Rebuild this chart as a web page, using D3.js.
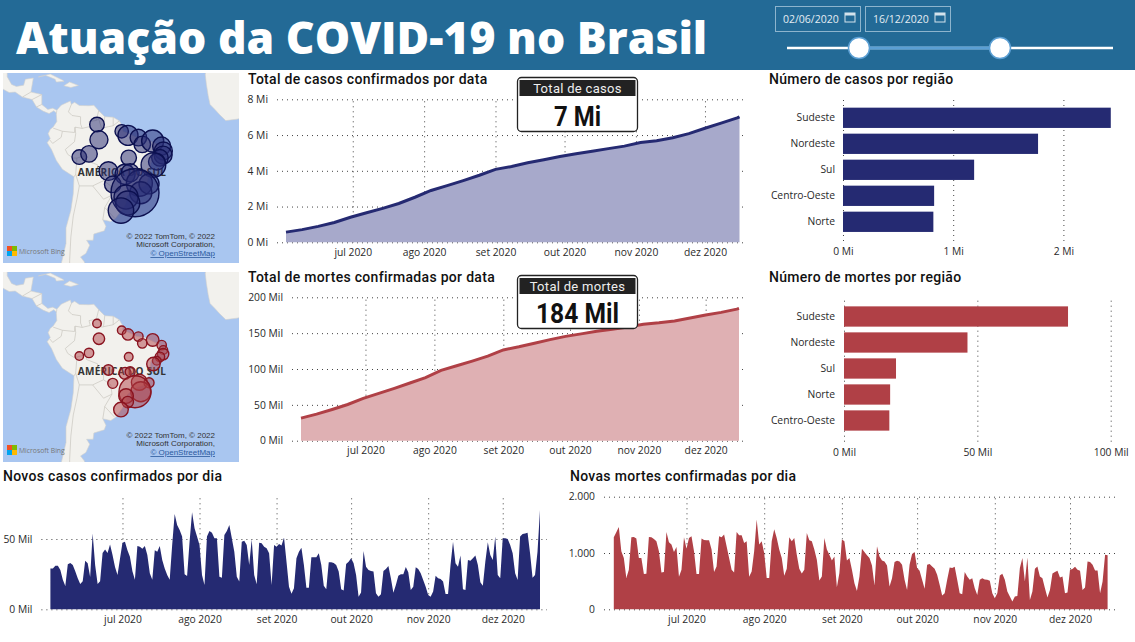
<!DOCTYPE html>
<html>
<head>
<meta charset="utf-8">
<script src="https://cdn.jsdelivr.net/npm/d3@7"></script>
<style>
  body { margin: 0; background: #fff; }
  text { font-family: "Open Sans", sans-serif; }
  .title { font-family: Roboto, sans-serif; font-weight: 500; font-size: 14px; letter-spacing: 0.3px; fill: #111; }
  .tick text { font-family: "Open Sans", sans-serif; font-size: 10.3px; fill: #2a2a2a; }
  .tick line { stroke: #444; stroke-dasharray: 1 4; }
  .domain { display: none; }
</style>
</head>
<body>
<div id="chart"></div>
<script>
// Atuacao da COVID-19 no Brasil

const width = 1135, height = 642;

// acumulados, uma leitura por semana
const weekDates = ["2020-06-02","2020-06-09","2020-06-16","2020-06-23","2020-06-30","2020-07-07","2020-07-14","2020-07-21","2020-07-28",
  "2020-08-04","2020-08-11","2020-08-18","2020-08-25","2020-09-01","2020-09-08","2020-09-15","2020-09-22","2020-09-29",
  "2020-10-06","2020-10-13","2020-10-20","2020-10-27","2020-11-03","2020-11-10","2020-11-17","2020-11-24","2020-12-01","2020-12-08","2020-12-15","2020-12-16"];
const totalCases = [0.57,0.71,0.89,1.11,1.40,1.65,1.90,2.17,2.52,2.90,3.17,3.45,3.75,4.08,4.24,4.45,4.62,4.80,4.95,5.09,5.24,5.38,5.58,5.68,5.85,6.08,6.38,6.67,6.96,7.02];
const totalDeaths = [31.5,37,43.5,50.5,59,66,73,80.5,88,98,104.5,111,118,126.6,131,136,141,145.5,149,152.5,155.5,158.5,162.5,164.5,167,171,175.4,179,183.5,184.5];

// novos casos por dia (mil), 02/06 a 16/12
const dailyCases = [29,29,31,31,28,21,16.6,32,33,31.5,27,22,18,20,34.6,32.7,23,54,31.5,18,
  20,40,42.6,40,46,38.6,30,24.4,36,47.4,48,42,37.4,27,21,45,44.5,43,45,38.6,
  25.6,21,42,41,45,35,29,24.4,21,45.7,67.8,60,56.4,51.7,25,23.7,48,69,57.6,51.7,
  45.7,24.4,17.3,51.7,55.7,54.5,50.5,50.5,23.2,22.5,52.8,55.7,60,50.5,41,23.2,19.7,48,48.8,45.7,
  31.5,49.8,24.4,17.8,47.4,47,44.5,43.4,39.8,17.3,45.7,44.5,46.4,45.3,51,33.9,16,11,15,
  36.3,41,43.8,31.5,15.4,15.4,37,37,37,39.8,
  31.5,16.8,14.2,33.4,33.4,32.9,31.5,26.8,14.2,13.3,
  32.2,33.9,36.3,32.7,24.4,9,12,41.5,30.3,28,
  27.3,26.8,11.4,9,10.7,27.3,28.7,30.8,22,11.8,
  17.3,23.9,24.9,24.9,30,26.3,13.7,16,29.9,28.7,
  25.6,20.9,16,10.2,9,12.6,23.9,22,21.6,19.7,
  10.9,10.9,31.5,48,32.7,30.3,38.2,14.2,13.7,35,
  34.6,36.3,38.2,31.5,19.2,16.8,33.9,47.6,38.6,35,
  51.7,24.4,22,50.5,50.5,50,45.7,39.8,25.6,20.9,
  51.7,53.6,54,54.5,39.8,22.5,24.4,41,70.6];

// novas mortes por dia, 02/06 a 16/12
const dailyDeaths = [1280,1370,1464,1030,910,554,702,1280,1286,1256,
  910,910,625,631,1286,1280,1250,1208,1030,655,
  661,1375,1190,1149,1018,1107,577,702,1280,1077,
  1268,1298,1030,625,625,1256,1232,1226,1226,1060,
  661,762,1298,1280,1327,1119,910,702,655,1375,
  1315,1315,1179,1208,577,673,1030,1595,1149,1208,
  1000,554,554,1208,1423,1268,1060,910,595,720,
  1280,1208,1268,970,720,637,702,1357,1226,1208,
  1060,881,512,583,1268,1060,970,869,940,393,
  643,1238,1208,869,910,702,464,327,583,
  1077,1018,958,910,780,423,1119,940,869,851,
  780,405,553,839,863,851,792,524,345,792,
  982,1018,732,685,524,363,792,804,762,720,
  613,435,244,286,524,744,732,756,524,286,
  268,661,583,524,553,375,256,524,553,530,
  524,506,286,196,286,601,631,524,315,226,
  137,226,238,732,910,494,922,167,315,720,
  762,583,553,375,208,345,637,661,685,565,
  583,286,298,702,714,756,702,685,345,387,
  851,839,792,690,690,286,494,970,958];

const monthTicks = ["2020-07-01","2020-08-01","2020-09-01","2020-10-01","2020-11-01","2020-12-01"];
const monthLabels = ["jul 2020","ago 2020","set 2020","out 2020","nov 2020","dez 2020"];

// regioes
const casesRegions = ["Sudeste","Nordeste","Sul","Centro-Oeste","Norte"];
const casesByRegion = [2.43,1.77,1.19,0.827,0.82];
const deathsRegions = ["Sudeste","Nordeste","Sul","Norte","Centro-Oeste"];
const deathsByRegion = [84,46.3,19.5,17.3,17];

// estados: lon, lat, casos (mil), mortes (mil)
const stateNames = ["RR","AM","AC","RO","AP","PA","MA","PI","CE","RN","PB","PE","AL","SE","BA","TO","MT","GO","DF","MS","MG","ES","RJ","SP","PR","SC","RS"];
const stateLon = [-60.7,-59.9,-68,-64,-50.5,-47.9,-43.6,-42,-37.7,-34,-33.3,-33.4,-34.7,-36,-37.4,-47.6,-56,-49.1,-47,-54.2,-43.2,-39.2,-42.6,-45,-48.7,-48,-50.8];
const stateLat = [2.8,-3.5,-10.6,-9.3,0,-1.7,-2.6,-5.4,-4,-6.1,-8.1,-9.8,-10.9,-12.5,-13.8,-10.9,-16.2,-17.5,-16.9,-21.4,-21,-21.2,-24.6,-24.6,-26.2,-28.4,-31.1];
const stateCases = [125,190,125,160,105,235,160,160,285,190,190,190,160,160,355,140,205,235,190,160,395,235,285,1350,340,340,380];
const stateDeaths = [3.2,5.7,3.2,3.9,3.2,5.7,3.9,3.9,7,3.9,3.3,5.7,3.9,3.3,7.9,3.3,4.9,6.3,4.4,4.4,11.2,4.4,17.6,45,9.4,5.7,9.4];

// contornos do mapa de fundo (lon, lat)
const southAmerica = [[-77.3,8.7],[-75.5,10.7],[-74.2,11.3],[-71.7,12.4],[-71.3,11],[-70,11.9],[-68,10.6],[-64,10.5],[-62,10.7],[-60,8.5],[-57.5,6],[-54,5.8],[-51.5,4.3],[-50,1.8],[-50,0],[-48,-0.7],[-44.5,-2.5],[-41,-2.9],[-37,-4.9],[-35.2,-5.5],[-34.8,-8],[-37,-11],[-38.5,-13],[-39,-17],[-40,-20.5],[-41,-22],[-44,-23],[-46.5,-24.2],[-48.5,-26],[-48.7,-28.5],[-50.5,-31],[-53,-33.8],[-55,-34.9],[-58.3,-34.3],[-57,-36.5],[-57.7,-38],[-62,-39],[-62.3,-41],[-65,-41],[-63.7,-42.5],[-65.3,-45],[-67.5,-46],[-65.8,-47.5],[-69,-51],[-75.5,-51],[-75.5,-48],[-73.5,-42],[-73.5,-37],[-71.5,-31],[-70.5,-25],[-70.2,-18.5],[-75,-15.5],[-77.5,-12],[-79.5,-7.5],[-81.3,-4.7],[-80,-3],[-80.9,-1],[-80,0.8],[-78.8,1.8],[-77.3,4],[-77.5,7]];
const centralAmerica = [[-105,24],[-97.8,24],[-97.8,22],[-96,19],[-94,18.2],[-91,18.7],[-90.3,21],[-87,21.5],[-88,16],[-83.5,15],[-83.5,11],[-81,9],[-79,9.5],[-77.3,8.7],[-77.5,7.5],[-78.5,8.5],[-80.5,7.3],[-83,8.3],[-85.7,10],[-87.5,13],[-91.5,14],[-94.5,16],[-97,15.8],[-105,20]];
const cuba = [[-84.9,21.9],[-80,23],[-75,20.7],[-74.3,20.2],[-77.5,19.9],[-78,21],[-82,22.5]];
const hispaniola = [[-74.4,18.5],[-72,19.9],[-68.4,18.6],[-71.5,17.8]];
const westAfrica = [[-6,36],[-10,31],[-13,27.7],[-16,23],[-15.5,19],[-15,16],[-14.8,14.7],[-14,11],[-12,9],[-10,6.8],[-7.5,4.4],[-3,5],[0,5.5],[0,36]];
const borders = [
  [[-51.6,4.2],[-54,2.3],[-56,1.9],[-58.8,1.3],[-60,5],[-61,4.5],[-64,4],[-63.5,2],[-66.8,1.2],[-69.8,1.7],[-69.5,-1],[-70,-4.3],[-73.8,-7.5],[-72.8,-9.5],[-70.5,-11],[-69,-11],[-65.4,-10],[-65,-12],[-60.5,-13.7],[-60,-16.3],[-58,-16.5],[-58,-20],[-55,-22],[-54.5,-25.5],[-57.5,-30],[-53.5,-33.7]],
  [[-71.3,11],[-72.5,8],[-71,6.5],[-67.5,6],[-67.5,3],[-66.8,1.2]],
  [[-69.8,1.7],[-70,-0.5],[-75,0],[-78.8,1.3]],
  [[-75,0],[-75.5,-2.5],[-79,-5],[-80.3,-3.5]],
  [[-69,-11],[-69.5,-17.5],[-70.2,-18.5]],
  [[-69.5,-17.5],[-68,-22],[-69,-27],[-70.5,-33],[-71.5,-40],[-72,-47],[-72,-51]],
  [[-68,-22],[-62.5,-22],[-58,-20]],
  [[-62.5,-22],[-58,-27],[-54.5,-25.5]],
  [[-57.5,-30],[-58.3,-34.3]],
  [[-60,8.5],[-61,4.5]],[[-57.5,6],[-58,1.5]],[[-54,5.8],[-54,2.3]],
  [[-83.5,15],[-87.5,13]],[[-88,16],[-91.5,14]],[[-83.5,11],[-85.7,10]]
];

const svg = d3.select("#chart")
  .append("svg")
  .attr("width", width)
  .attr("height", height)
  .attr("viewBox", [0, 0, width, height])
  .style("display", "block");

const parseDay = d3.utcParse("%Y-%m-%d");
const startDay = parseDay("2020-06-02"), endDay = parseDay("2020-12-16");
const monthDates = monthTicks.map(parseDay);
const ptBR = d3.formatLocale({ decimal: ",", thousands: ".", grouping: [3], currency: ["R$", ""] });

// cabecalho
svg.append("rect").attr("width", width).attr("height", 70).attr("fill", "#236a96");
svg.append("text").attr("x", 16).attr("y", 54)
  .attr("font-size", 44.5).attr("font-weight", 800).attr("fill", "#fff")
  .style("font-family", "'Open Sans', sans-serif")
  .text("Atuação da COVID-19 no Brasil");

function dateBox(x, label) {
  let g = svg.append("g").attr("transform", `translate(${x},6)`);
  g.append("rect").attr("x", 0.5).attr("y", 0.5).attr("width", 85).attr("height", 25)
    .attr("fill", "none").attr("stroke", "#8db4cd").attr("stroke-width", 1);
  g.append("text").attr("x", 8).attr("y", 17).attr("font-size", 10.5).attr("fill", "#e3edf3").text(label);
  g.append("rect").attr("x", 70).attr("y", 7).attr("width", 10).attr("height", 9)
    .attr("fill", "none").attr("stroke", "#d5e3ec").attr("stroke-width", 1);
  g.append("rect").attr("x", 70).attr("y", 7).attr("width", 10).attr("height", 2.5).attr("fill", "#d5e3ec");
}
dateBox(775, "02/06/2020");
dateBox(865, "16/12/2020");

// slider
const slider = svg.append("g");
slider.append("line").attr("x1", 787).attr("x2", 1113).attr("y1", 48).attr("y2", 48).attr("stroke", "#fff").attr("stroke-width", 2.5);
slider.append("line").attr("x1", 859).attr("x2", 1000).attr("y1", 48).attr("y2", 48).attr("stroke", "#5b9fd4").attr("stroke-width", 3);
[859, 1000].forEach(cx => {
  slider.append("circle").attr("cx", cx).attr("cy", 48).attr("r", 10.5)
    .attr("fill", "#fff").attr("stroke", "#5b9fd4").attr("stroke-width", 1.5);
});

function title(x, y, label) {
  svg.append("text").attr("class", "title").attr("x", x).attr("y", y).text(label);
}

// grade pontilhada e eixos
function gridAxes(x, y, o) {
  svg.append("g")
    .attr("transform", `translate(0,${o.bottom})`)
    .call(d3.axisBottom(x).tickValues(monthDates)
      .tickFormat((d, i) => monthLabels[i])
      .tickSize(-(o.bottom - o.top)).tickPadding(6));
  svg.append("g")
    .attr("transform", `translate(${o.gridLeft},0)`)
    .call(d3.axisLeft(y).tickValues(o.yTicks).tickFormat(o.yFormat)
      .tickSize(-(o.gridRight - o.gridLeft)).tickPadding(o.yPad));
}

// total acumulado com linha e area
function trendChart(values, o) {
  let data = weekDates.map((d, i) => ({ date: parseDay(d), value: values[i] }));
  let x = d3.scaleUtc().domain([startDay, endDay]).range([o.left, o.right]);
  let y = d3.scaleLinear().domain(o.yDomain).range([o.bottom, o.top]);
  gridAxes(x, y, o);
  svg.append("path").datum(data).attr("fill", o.fill)
    .attr("d", d3.area().x(d => x(d.date)).y0(y(0)).y1(d => y(d.value)));
  svg.append("path").datum(data).attr("fill", "none").attr("stroke", o.color).attr("stroke-width", 3)
    .attr("d", d3.line().x(d => x(d.date)).y(d => y(d.value)));
}

// serie diaria
function dailyChart(values, o) {
  let data = values.map((v, i) => ({ date: d3.utcDay.offset(startDay, i), value: v }));
  let x = d3.scaleUtc().domain([startDay, endDay]).range([o.left, o.right]);
  let y = d3.scaleLinear().domain(o.yDomain).range([o.bottom, o.y0top]);
  gridAxes(x, y, o);
  svg.append("path").datum(data).attr("fill", o.color)
    .attr("d", d3.area().x(d => x(d.date)).y0(y(0)).y1(d => y(d.value)));
}

// barras por regiao
function barChart(names, values, o) {
  let x = d3.scaleLinear().domain(o.xDomain).range([o.left, o.right]);
  let y = d3.scaleBand().domain(names).range([o.bandTop, o.bandTop + 26 * names.length]).paddingInner(0.22).paddingOuter(0.11);
  svg.append("g").attr("transform", `translate(0,${o.bottom})`)
    .call(d3.axisBottom(x).tickValues(o.xTicks).tickFormat(o.xFormat)
      .tickSize(-(o.bottom - o.top)).tickPadding(7));
  svg.append("g").attr("transform", `translate(${o.left},0)`)
    .call(d3.axisLeft(y).tickSize(0).tickPadding(o.left - 835))
    .selectAll("line").remove();
  svg.selectAll(null).data(names).join("rect")
    .attr("x", x(0)).attr("y", d => y(d))
    .attr("width", (d, i) => x(values[i]) - x(0)).attr("height", y.bandwidth())
    .attr("fill", o.color);
}

// cartao com total
function card(y0, h, head, label, value, valueWidth) {
  let g = svg.append("g").attr("transform", `translate(517,${y0})`);
  g.append("rect").attr("x", 0.5).attr("y", 0.5).attr("width", 120).attr("height", h)
    .attr("rx", 4).attr("fill", "#fff").attr("stroke", "#222").attr("stroke-width", 1.3);
  g.append("rect").attr("x", 2.5).attr("y", 3).attr("width", 116).attr("height", head).attr("fill", "#222");
  g.append("text").attr("x", 60.5).attr("y", 15.5).attr("text-anchor", "middle")
    .style("font-family", "Roboto").attr("font-size", 13).attr("letter-spacing", 0.3).attr("fill", "#eee").text(label);
  g.append("text").attr("x", 60.5).attr("y", h - 5).attr("text-anchor", "middle")
    .attr("textLength", valueWidth).attr("lengthAdjust", "spacingAndGlyphs")
    .style("font-family", "Roboto").attr("font-weight", 700).attr("font-size", 27).attr("fill", "#111").text(value);
}

// mapa com bolhas
function bubbleMap(top, sizes, sizeMax, rMax, fill, stroke, idx) {
  let panelW = 236, panelH = 190;
  let g = svg.append("g").attr("transform", `translate(3,${top})`);
  let clip = "clip" + idx;
  g.append("clipPath").attr("id", clip).append("rect").attr("width", panelW).attr("height", panelH);
  let m = g.append("g").attr("clip-path", `url(#${clip})`);
  m.append("rect").attr("width", panelW).attr("height", panelH).attr("fill", "#a9c6f0");

  let proj = d3.geoMercator().scale(138.7).center([-60.7, 2.8]).translate([94, 51.5]);
  let line = d3.line().x(d => proj(d)[0]).y(d => proj(d)[1]);
  [southAmerica, centralAmerica, cuba, hispaniola, westAfrica].forEach(shape => {
    m.append("path").attr("d", line(shape) + "Z").attr("fill", "#f2f1ed").attr("stroke", "#d4d2cc").attr("stroke-width", 0.6);
  });
  borders.forEach(b => {
    m.append("path").attr("d", line(b)).attr("fill", "none").attr("stroke", "#c8c6be").attr("stroke-width", 0.7);
  });

  m.append("text").attr("x", 119).attr("y", 103).attr("text-anchor", "middle")
    .attr("font-size", 10).attr("font-weight", 700).attr("letter-spacing", 0.3).attr("fill", "#333").text("AMÉRICA DO SUL");

  let r = d3.scaleSqrt().domain([0, sizeMax]).range([0, rMax]);
  m.selectAll("circle").data(stateNames).join("circle")
    .attr("cx", (d, i) => proj([stateLon[i], stateLat[i]])[0])
    .attr("cy", (d, i) => proj([stateLon[i], stateLat[i]])[1])
    .attr("r", (d, i) => r(sizes[i]))
    .attr("fill", fill).attr("fill-opacity", 0.5)
    .attr("stroke", stroke).attr("stroke-width", 1.4);

  [["© 2022 TomTom, © 2022", 166], ["Microsoft Corporation,", 174]].forEach(t => {
    m.append("text").attr("x", 212).attr("y", t[1]).attr("text-anchor", "end")
      .style("font-family", "'Liberation Sans'").attr("font-size", 8).attr("fill", "#333").text(t[0]);
  });
  m.append("text").attr("x", 212).attr("y", 183).attr("text-anchor", "end")
    .style("font-family", "'Liberation Sans'").attr("font-size", 8).attr("fill", "#2c5a9e")
    .attr("text-decoration", "underline").text("© OpenStreetMap");

  [["#f25022", 0, 0], ["#7fba00", 5, 0], ["#00a4ef", 0, 5], ["#ffb900", 5, 5]].forEach(s => {
    m.append("rect").attr("x", 4 + s[1]).attr("y", 173 + s[2]).attr("width", 5).attr("height", 5).attr("fill", s[0]);
  });
  m.append("text").attr("x", 16).attr("y", 181)
    .style("font-family", "'Open Sans'").attr("font-size", 6.8).attr("fill", "#777").text("Microsoft Bing");
}

bubbleMap(73, stateCases, 1350, 24, "#252a72", "#0c1050", 1);
bubbleMap(272, stateDeaths, 45, 16, "#b04046", "#8a1420", 2);

title(248, 84, "Total de casos confirmados por data");
trendChart(totalCases, {
  left: 286, right: 739.5, top: 99.3, bottom: 242.3, gridLeft: 277, gridRight: 747, yPad: 9,
  yDomain: [0, 8], yTicks: [0, 2, 4, 6, 8], yFormat: d => d + " Mi",
  fill: "#a7a9cb", color: "#252a72"
});
card(77, 54, 16, "Total de casos", "7 Mi", 47);

title(248, 282, "Total de mortes confirmadas por data");
trendChart(totalDeaths, {
  left: 301, right: 739, top: 297.3, bottom: 440.7, gridLeft: 292, gridRight: 746, yPad: 9,
  yDomain: [0, 200], yTicks: [0, 50, 100, 150, 200], yFormat: d => d + " Mil",
  fill: "#dfb0b3", color: "#b04046"
});
card(275, 53, 16, "Total de mortes", "184 Mil", 83);

title(769, 84, "Número de casos por região");
barChart(casesRegions, casesByRegion, {
  left: 843, right: 1063.4, top: 97, bottom: 241, bandTop: 104.8,
  xDomain: [0, 2], xTicks: [0, 1, 2], xFormat: d => d + " Mi", color: "#252a72"
});

title(769, 282, "Número de mortes por região");
barChart(deathsRegions, deathsByRegion, {
  left: 844, right: 1110.7, top: 297.3, bottom: 441.7, bandTop: 303.5,
  xDomain: [0, 100], xTicks: [0, 50, 100], xFormat: d => d + " Mil", color: "#b04046"
});

title(3, 481, "Novos casos confirmados por dia");
dailyChart(dailyCases, {
  left: 50.4, right: 540, top: 497, bottom: 609.3, y0top: 539, gridLeft: 41.4, gridRight: 547, yPad: 9,
  yDomain: [0, 50], yTicks: [0, 50], yFormat: d => d + " Mil", color: "#252a72"
});

title(570, 481, "Novas mortes confirmadas por dia");
dailyChart(dailyDeaths, {
  left: 613.8, right: 1107.6, top: 496.7, bottom: 609.3, y0top: 496.7, gridLeft: 604, gridRight: 1116, yPad: 9,
  yDomain: [0, 2000], yTicks: [0, 1000, 2000], yFormat: ptBR.format(","), color: "#b04046"
});
</script>
</body>
</html>
